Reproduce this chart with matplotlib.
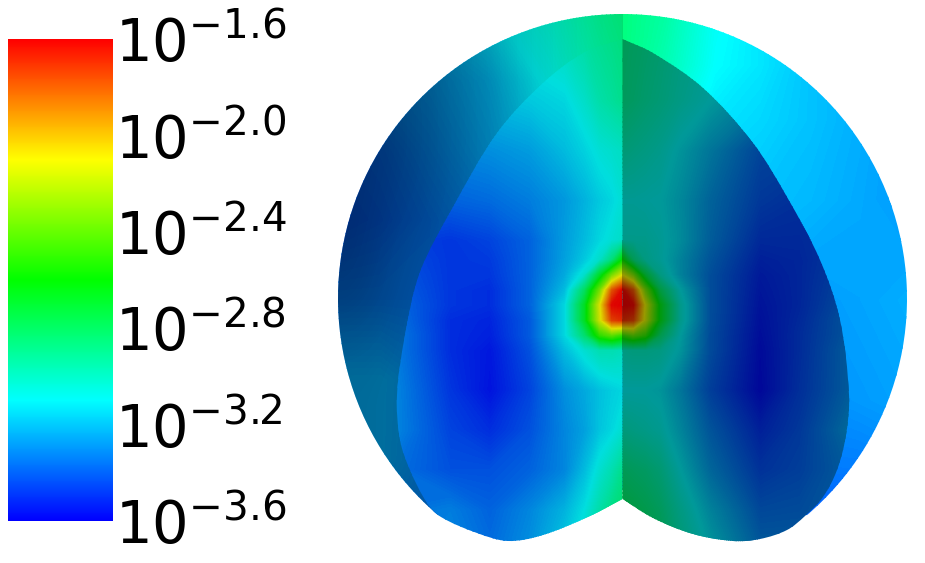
import numpy as np
import matplotlib
matplotlib.use('Agg')
import matplotlib.pyplot as plt
from matplotlib.colors import LinearSegmentedColormap, LogNorm, Normalize, to_rgb
from matplotlib.cm import ScalarMappable
from matplotlib.path import Path
from matplotlib.patches import PathPatch

# colour bar
tick_exponents = [-3.6, -3.2, -2.8, -2.4, -2.0, -1.6]
tick_labels = ['-3.6', '-3.2', '-2.8', '-2.4', '-2.0', '-1.6']
ramp_colors = ['#0000ff', '#00ffff', '#00ff00', '#ffff00', '#ff0000']

# field, log10 of the value at each node
left_x = [395, 450, 490, 530, 565, 585, 600, 612, 622.5]
left_y = [30, 100, 150, 200, 240, 260, 275, 290, 305, 320, 335, 350, 390, 430, 470, 510, 545]
left_field = [
    [-3.20, -3.15, -3.10, -3.05, -3.00, -2.95, -2.92, -2.90, -2.88],
    [-3.25, -3.22, -3.18, -3.15, -3.12, -3.05, -2.98, -2.95, -2.92],
    [-3.30, -3.30, -3.28, -3.25, -3.18, -3.13, -3.08, -3.06, -3.04],
    [-3.38, -3.38, -3.36, -3.32, -3.26, -3.20, -3.15, -3.12, -3.08],
    [-3.45, -3.48, -3.45, -3.38, -3.25, -3.18, -3.12, -3.08, -3.05],
    [-3.42, -3.48, -3.47, -3.38, -3.24, -3.15, -3.05, -2.88, -2.60],
    [-3.40, -3.48, -3.48, -3.38, -3.22, -3.06, -2.70, -2.35, -2.12],
    [-3.38, -3.48, -3.50, -3.38, -3.18, -2.82, -2.35, -1.80, -1.62],
    [-3.36, -3.48, -3.50, -3.38, -3.12, -2.68, -2.12, -1.62, -1.60],
    [-3.34, -3.50, -3.52, -3.40, -3.12, -2.68, -2.15, -1.75, -1.70],
    [-3.32, -3.50, -3.53, -3.40, -3.12, -2.85, -2.50, -2.40, -2.50],
    [-3.32, -3.50, -3.55, -3.42, -3.18, -3.07, -3.00, -3.00, -3.02],
    [-3.30, -3.48, -3.56, -3.45, -3.28, -3.22, -3.17, -3.14, -3.12],
    [-3.30, -3.45, -3.50, -3.42, -3.30, -3.24, -3.16, -3.12, -3.07],
    [-3.35, -3.42, -3.42, -3.38, -3.30, -3.18, -3.07, -3.00, -2.92],
    [-3.35, -3.32, -3.38, -3.30, -3.20, -3.10, -2.98, -2.90, -2.85],
    [-3.35, -3.30, -3.36, -3.28, -3.15, -3.05, -2.95, -2.88, -2.82],
]

right_x = [622.5, 633, 645, 660, 680, 710, 760, 800, 852]
right_y = [30, 100, 150, 200, 240, 260, 275, 290, 305, 320, 335, 350, 390, 430, 470, 510, 545]
right_field = [
    [-2.88, -2.90, -2.92, -2.95, -3.00, -3.05, -3.15, -3.25, -3.30],
    [-2.90, -2.92, -2.95, -2.98, -3.03, -3.10, -3.22, -3.30, -3.35],
    [-2.98, -3.00, -3.02, -3.05, -3.12, -3.22, -3.38, -3.40, -3.40],
    [-3.08, -3.08, -3.09, -3.10, -3.16, -3.28, -3.42, -3.45, -3.42],
    [-3.05, -3.05, -3.05, -3.08, -3.15, -3.30, -3.47, -3.47, -3.42],
    [-2.60, -2.88, -3.02, -3.08, -3.18, -3.33, -3.50, -3.48, -3.40],
    [-2.12, -2.35, -2.75, -3.02, -3.18, -3.35, -3.52, -3.48, -3.38],
    [-1.62, -1.80, -2.35, -2.82, -3.10, -3.35, -3.53, -3.48, -3.36],
    [-1.60, -1.62, -2.12, -2.65, -3.05, -3.35, -3.54, -3.48, -3.34],
    [-1.70, -1.75, -2.15, -2.65, -3.05, -3.35, -3.55, -3.47, -3.32],
    [-2.50, -2.40, -2.50, -2.85, -3.10, -3.36, -3.56, -3.46, -3.32],
    [-3.02, -3.00, -3.00, -3.02, -3.12, -3.36, -3.57, -3.46, -3.30],
    [-3.10, -3.10, -3.10, -3.12, -3.22, -3.40, -3.58, -3.45, -3.30],
    [-3.00, -3.02, -3.04, -3.07, -3.17, -3.33, -3.50, -3.42, -3.25],
    [-2.88, -2.90, -2.92, -2.97, -3.10, -3.27, -3.44, -3.40, -3.30],
    [-2.80, -2.82, -2.85, -2.90, -3.02, -3.18, -3.37, -3.36, -3.30],
    [-2.78, -2.80, -2.82, -2.86, -2.98, -3.12, -3.32, -3.32, -3.30],
]

back_x = [338, 380, 430, 490, 550, 600, 622.5]
back_y = [14, 80, 150, 220, 300, 380, 460, 520]
back_left_field = [
    [-3.30, -3.25, -3.20, -3.12, -3.02, -2.90, -2.86],
    [-3.35, -3.32, -3.28, -3.22, -3.08, -2.95, -2.90],
    [-3.40, -3.38, -3.32, -3.25, -3.15, -3.00, -2.95],
    [-3.42, -3.40, -3.36, -3.30, -3.20, -3.05, -3.00],
    [-3.35, -3.35, -3.35, -3.30, -3.20, -3.10, -3.00],
    [-3.25, -3.25, -3.30, -3.30, -3.20, -3.10, -3.00],
    [-3.25, -3.25, -3.32, -3.30, -3.20, -3.10, -3.00],
    [-3.30, -3.30, -3.35, -3.30, -3.20, -3.10, -3.00],
]
back_left_bright = [
    [0.45, 0.50, 0.60, 0.70, 0.78, 0.85, 0.88],
    [0.45, 0.50, 0.58, 0.68, 0.78, 0.85, 0.88],
    [0.45, 0.50, 0.58, 0.68, 0.78, 0.85, 0.88],
    [0.45, 0.56, 0.62, 0.70, 0.78, 0.85, 0.88],
    [0.48, 0.60, 0.65, 0.70, 0.78, 0.85, 0.88],
    [0.60, 0.62, 0.66, 0.70, 0.78, 0.85, 0.88],
    [0.60, 0.62, 0.66, 0.70, 0.78, 0.85, 0.88],
    [0.60, 0.62, 0.66, 0.70, 0.78, 0.85, 0.88],
]

back_rx = [622.5, 665, 715, 760, 810, 860, 908]
back_ry = [14, 65, 120, 200, 300, 400, 470, 520]
back_right_field = [
    [-2.85, -2.92, -3.08, -3.15, -3.22, -3.26, -3.30],
    [-2.85, -2.95, -3.10, -3.15, -3.22, -3.26, -3.30],
    [-2.95, -3.02, -3.15, -3.18, -3.22, -3.26, -3.30],
    [-3.05, -3.10, -3.20, -3.22, -3.24, -3.27, -3.30],
    [-3.15, -3.20, -3.25, -3.27, -3.30, -3.28, -3.26],
    [-3.25, -3.25, -3.28, -3.30, -3.32, -3.30, -3.28],
    [-3.30, -3.30, -3.32, -3.34, -3.36, -3.36, -3.34],
    [-3.30, -3.30, -3.32, -3.36, -3.42, -3.45, -3.45],
]

# outlines of the cut faces, in image pixels
left_edge = [(622.5, 39), (585, 52), (543, 83), (497, 133), (453, 207), (420, 272), (405, 335),
             (397, 395), (400, 440), (410, 470), (427, 503), (441, 517), (477, 533), (508, 541),
             (543, 535), (590, 516), (622.5, 499)]
right_edge = [(622.5, 39), (653, 53), (703, 88), (753, 143), (787, 197), (820, 260), (840, 320),
              (849, 395), (846, 435), (837, 470), (823, 497), (805, 516), (787, 530), (760, 539),
              (733, 541), (693, 534), (653, 518), (622.5, 499)]
centre = (622.5, 298.5)
radius = 284.5

ramp = LinearSegmentedColormap.from_list('ramp', ramp_colors, N=512)
shade_map = LinearSegmentedColormap.from_list('shade', [(0, 0, 0, 1), (0, 0, 0, 0)], N=256)
levels = np.linspace(-3.6, -1.6, 257)


def smooth_path(points):
    # spline through the points, tangents scaled by the length of each span
    p = np.array(points, dtype=float)
    q = np.vstack([p[0], p, p[-1]])
    tangents = q[2:] - q[:-2]
    tangents = tangents / np.linalg.norm(tangents, axis=1, keepdims=True)
    verts = [p[0]]
    codes = [Path.MOVETO]
    for i in range(len(p) - 1):
        span = np.linalg.norm(p[i + 1] - p[i]) / 3
        verts += [p[i] + tangents[i] * span, p[i + 1] - tangents[i + 1] * span, p[i + 1]]
        codes += [Path.CURVE4] * 3
    verts.append(p[0])
    codes.append(Path.CLOSEPOLY)
    return Path(verts, codes)


def dimmed(bright):
    return LinearSegmentedColormap.from_list('dim', [tuple(bright * c for c in to_rgb(h)) for h in ramp_colors], N=512)


def draw_region(ax, xs, ys, field, clip, bright, z):
    patch = PathPatch(clip, fc='none', ec='none', transform=ax.transData)
    ax.add_patch(patch)
    cmap = dimmed(bright) if np.ndim(bright) == 0 else ramp
    cs = ax.contourf(xs, ys, np.array(field), levels=levels, cmap=cmap, extend='both', zorder=z)
    cs.set_clip_path(patch)
    if np.ndim(bright):
        # darkening that changes across the face
        im = ax.imshow(np.array(bright), cmap=shade_map, norm=Normalize(0, 1), interpolation='bicubic',
                       extent=[xs[0], xs[-1], ys[-1], ys[0]], aspect='auto', zorder=z + 0.5)
        im.set_clip_path(patch)


fig = plt.figure(figsize=(9.25, 5.63), dpi=100)
ax = fig.add_axes([0, 0, 1, 1])
ax.axis('off')

arc = Path.arc(130.4, 409.6)
arc_xy = arc.vertices * radius + np.array(centre)
back_clip = Path(np.vstack([arc_xy, [(622.5, 490)], arc_xy[:1]]),
                 list(arc.codes) + [Path.LINETO, Path.LINETO])
draw_region(ax, back_x, back_y, back_left_field, back_clip, back_left_bright, 1)
draw_region(ax, back_rx, back_ry, back_right_field, back_clip, 1.0, 1)
draw_region(ax, left_x, left_y, left_field, smooth_path(left_edge), 0.87, 3)
draw_region(ax, right_x, right_y, right_field, smooth_path(right_edge), 0.60, 4)
ax.set_xlim(0, 925)
ax.set_ylim(563, 0)

# colour bar
cax = fig.add_axes([8 / 925, 1 - 521 / 563, 105 / 925, 482 / 563])
norm = LogNorm(10 ** -3.6, 10 ** -1.6)
cb = fig.colorbar(ScalarMappable(norm=norm, cmap=ramp), cax=cax)
cb.outline.set_visible(False)
cb.ax.minorticks_off()
cb.set_ticks([10 ** e for e in tick_exponents])
cb.set_ticklabels([r'$\mathdefault{10^{%s}}$' % t for t in tick_labels])
cb.ax.tick_params(axis='y', which='both', length=0, pad=1.5, labelsize=41.5)
cb.ax.minorticks_off()

plt.savefig('out.png', dpi=100)
plt.close()
